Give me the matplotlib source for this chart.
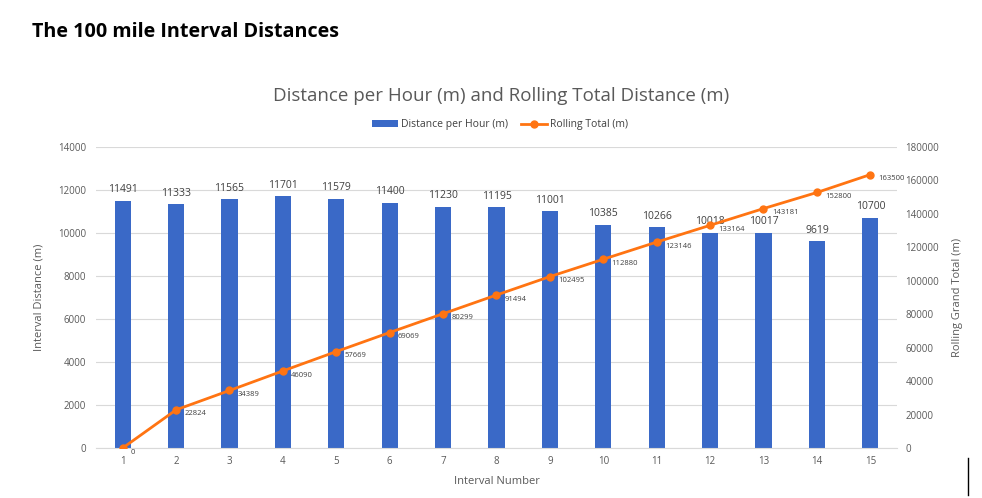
import numpy as np
import matplotlib.pyplot as plt

intervals = list(range(1, 16))
dist_per_hour = [11491, 11333, 11565, 11701, 11579, 11400, 11230, 11195,
                 11001, 10385, 10266, 10018, 10017, 9619, 10700]
rolling_total = [0, 22824, 34389, 46090, 57669, 69069, 80299, 91494,
                 102495, 112880, 123146, 133164, 143181, 152800, 163500]

plt.rcParams['font.family'] = ['Open Sans', 'DejaVu Sans']
bar_c = '#3A69C7'
line_c = '#FF7412'
txt_c = '#595959'

fig = plt.figure(figsize=(9.82, 4.98), dpi=100)
ax = fig.add_axes([96/982, 1-448/498, 801/982, 301/498])
ax2 = ax.twinx()

bars = ax.bar(intervals, dist_per_hour, width=0.3, color=bar_c, zorder=2,
              label='Distance per Hour (m)')
ln, = ax2.plot(intervals, rolling_total, color=line_c, lw=2, marker='o', ms=5,
               zorder=3, label='Rolling Total (m)')

ax.set_xlim(0.5, 15.5)
ax.set_ylim(0, 14000)
ax2.set_ylim(0, 180000)
ax.set_yticks(np.arange(0, 14001, 2000))
ax2.set_yticks(np.arange(0, 180001, 20000))
ax.set_xticks(intervals)
ax.grid(axis='y', color='#D9D9D9', lw=0.8, zorder=0)
ax.set_axisbelow(True)
for a in (ax, ax2):
    for s in a.spines.values():
        s.set_visible(False)
    a.tick_params(length=0, labelsize=7, colors=txt_c)
ax.spines['bottom'].set_visible(True)
ax.spines['bottom'].set_color('#D9D9D9')
ax.tick_params(axis='x', pad=6)
ax.tick_params(axis='y', pad=7)
ax2.tick_params(axis='y', pad=6)

for x, v in zip(intervals, dist_per_hour):
    ax.annotate(str(v), (x, v), xytext=(0, 4), textcoords='offset points',
                ha='center', va='bottom', fontsize=7.5, color='#404040')
for x, v in zip(intervals, rolling_total):
    ax2.annotate(str(v), (x, v), xytext=(6, -3), textcoords='offset points',
                 ha='left', va='center', fontsize=5.5, color='#404040')

ax.set_xlabel('Interval Number', fontsize=8, color=txt_c, labelpad=6)
ax.set_ylabel('Interval Distance (m)', fontsize=8, color=txt_c, labelpad=10)
ax2.set_ylabel('Rolling Grand Total (m)', fontsize=8, color=txt_c, labelpad=9)

fig.text(501/982, 1-96/498, 'Distance per Hour (m) and Rolling Total Distance (m)',
         ha='center', va='center', fontsize=13.5, color=txt_c)
fig.legend(handles=[bars, ln], loc='center', bbox_to_anchor=(500/982, 1-125/498),
           ncol=2, frameon=False, fontsize=7.5, labelcolor='#404040',
           handlelength=2.5, columnspacing=1.2, handletextpad=0.3)
fig.text(32/982, 1-32/498, 'The 100 mile Interval Distances', ha='left',
         va='center', fontsize=14.2, fontweight='bold', color='black')
fig.add_artist(plt.Line2D([968/982, 968/982], [1-495/498, 1-458/498],
                          color='black', lw=1))

fig.savefig('out.png', dpi=100)
